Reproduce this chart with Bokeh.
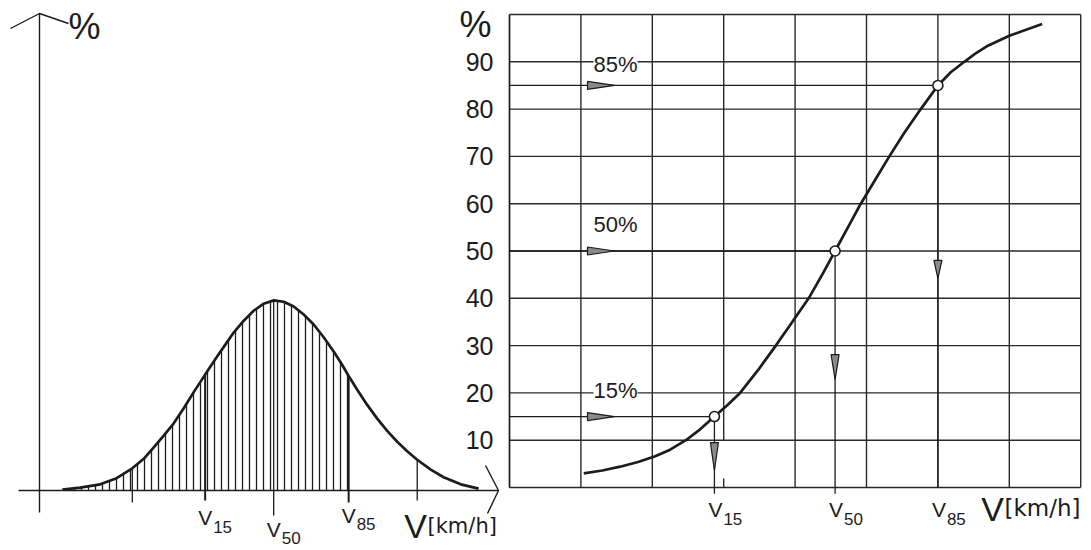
from bokeh.plotting import figure
from bokeh.models import Range1d, LinearAxis, FixedTicker, ColumnDataSource, Label
from bokeh.core.properties import value
from bokeh.embed import file_html
from bokeh.resources import INLINE

# ---------------- data ----------------
# left chart: frequency distribution of speeds (x in speed units, y in %)
bell_x = [0.32, 0.57, 0.85, 1.08, 1.30, 1.46, 1.60, 1.74, 1.88, 2.02, 2.16,
          2.32, 2.49, 2.61, 2.72, 2.86, 3.00, 3.14, 3.28, 3.42, 3.56, 3.70,
          3.84, 3.98, 4.12, 4.23, 4.33, 4.45, 4.59, 4.73, 4.87, 5.01, 5.15,
          5.29, 5.48, 5.66, 5.90, 6.15]
bell_y = [0.2, 0.6, 1.3, 2.6, 4.7, 6.7, 9.1, 11.6, 14.2, 17.4, 20.8,
          24.5, 28.4, 31.0, 33.4, 35.9, 38.0, 39.5, 40.2, 39.9, 38.9, 37.2,
          35.1, 32.4, 29.4, 26.8, 24.2, 21.3, 18.1, 15.2, 12.6, 10.3, 8.3,
          6.5, 4.4, 2.8, 1.3, 0.4]
bell_ticks = [1.30, 2.32, 3.28, 4.33, 5.29]
bell_tick_len_px = [12, 10, 25, 12, 10]
bell_tick_width = [1.3, 2.0, 1.3, 2.0, 1.3]
bell_v_ticks = [2.32, 3.28, 4.33]
bell_v_names = ["15", "50", "85"]
bell_v_mid = [-5.8, -8.2, -5.2]

# right chart: cumulative distribution (x in grid columns, y in %)
cum_x = [1.04, 1.30, 1.55, 1.80, 2.04, 2.25, 2.47, 2.67, 2.87, 3.05, 3.23,
         3.48, 3.73, 3.96, 4.19, 4.38, 4.56, 4.74, 4.92, 5.12, 5.32, 5.53,
         5.76, 6.00, 6.18, 6.37, 6.53, 6.70, 7.00, 7.46]
cum_y = [3.0, 3.6, 4.4, 5.4, 6.6, 8.0, 10.0, 12.3, 15.0, 17.4, 20.0,
         24.8, 30.0, 35.0, 40.0, 45.0, 50.0, 55.0, 60.0, 65.0, 70.0, 75.0,
         80.0, 85.0, 87.8, 90.0, 91.8, 93.4, 95.5, 98.0]
grid_cols = [0, 1, 2, 3, 4, 5, 6, 7, 8]
grid_rows = [0, 10, 20, 30, 40, 50, 60, 70, 80, 90, 100]
pct_ticks = [10, 20, 30, 40, 50, 60, 70, 80, 90]
v_levels = [15, 50, 85]
v_pos = [2.87, 4.56, 6.00]
v_names = ["15", "50", "85"]
pct_texts = ["15%", "50%", "85%"]
pct_text_y = [20.5, 55.5, 89.5]
vdart_top = [9.5, 28.1, 48.0]
vdart_tip = [3.6, 22.8, 44.2]

# ---------------- layout ----------------
W, H = 1091, 550
OFF = 0
R_X0, R_Y0 = 509.0, 487.0
L_X0, L_Y0 = 39.0, 490.0
PXU = 71.4
PXP = 4.73
INK = "#1c1c1c"
GRID = "#2a2a2a"
FONT = "Liberation Sans"


def xr(x0):
    return Range1d((OFF - x0) / PXU, (OFF + W - x0) / PXU)


def yr(y0):
    return Range1d((y0 - (OFF + H)) / PXP, (y0 - OFF) / PXP)


p = figure(width=W, height=H, x_range=xr(R_X0), y_range=yr(R_Y0),
           x_axis_location=None, y_axis_location=None, toolbar_location=None,
           output_backend="svg", min_border=0, outline_line_color=None,
           title=None, background_fill_color="white", border_fill_color="white")
p.grid.visible = False
p.extra_x_ranges = {"lx": xr(L_X0)}
p.extra_y_ranges = {"ly": yr(L_Y0)}
LK = dict(x_range_name="lx", y_range_name="ly")
TXT = dict(text_baseline="middle", text_color=INK)

# ---------------- left chart ----------------
k85 = bell_x.index(bell_v_ticks[2])
p.varea(x=bell_x[:k85 + 1], y1=[0] * (k85 + 1), y2=bell_y[:k85 + 1],
        fill_color=None, fill_alpha=0, hatch_pattern="|", hatch_scale=7,
        hatch_weight=1.3, hatch_color=INK, **LK)
p.line(bell_x, bell_y, line_width=2.7, color=INK, **LK)

tick_tops = [bell_y[bell_x.index(t)] for t in bell_ticks]
tick_src = ColumnDataSource(dict(
    x=bell_ticks, y0=tick_tops,
    y1=[-l / PXP for l in bell_tick_len_px], w=bell_tick_width))
p.segment(x0="x", y0="y0", x1="x", y1="y1", line_width="w", color=INK,
          source=tick_src, **LK)

# left axes with hand-drawn arrow heads
ax_top = (L_Y0 - 13) / PXP
ax_bot = (L_Y0 - 512) / PXP
p.segment(x0=[0, (18 - L_X0) / PXU], y0=[ax_bot, 0],
          x1=[0, (498 - L_X0) / PXU], y1=[ax_top, 0],
          line_width=1.4, color=INK, **LK)
p.line(x=[(10 - L_X0) / PXU, 0, (68 - L_X0) / PXU],
       y=[(L_Y0 - 28) / PXP, ax_top, (L_Y0 - 23) / PXP],
       line_width=1.4, color=INK, **LK)
p.line(x=[(485 - L_X0) / PXU, (498 - L_X0) / PXU, (487 - L_X0) / PXU],
       y=[(L_Y0 - 465) / PXP, 0, (L_Y0 - 513) / PXP],
       line_width=1.4, color=INK, **LK)

p.text(x=[(84 - L_X0) / PXU], y=[(L_Y0 - 26) / PXP], text=["%"],
       text_align="center", text_font=value(FONT), text_font_size="36px",
       **TXT, **LK)

p.text(x=bell_v_ticks, y=bell_v_mid, text=["V"] * 3, text_align="center",
       text_font=value(FONT), text_font_size="21px", **TXT, **LK)
p.text(x=bell_v_ticks, y=bell_v_mid, text=bell_v_names, text_align="left",
       x_offset=8, y_offset=9, text_font=value(FONT),
       text_font_size="17px", **TXT, **LK)
p.text(x=[(415 - L_X0) / PXU], y=[(L_Y0 - 525) / PXP], text=["V"],
       text_align="center", text_font=value(FONT), text_font_size="34px",
       **TXT, **LK)
p.text(x=[(427 - L_X0) / PXU], y=[(L_Y0 - 525) / PXP], text=["[km/h]"],
       text_align="left", text_font=value("DejaVu Sans"),
       text_font_size="21px", **TXT, **LK)

# ---------------- right chart ----------------
gap_col, gap_lo, gap_hi = 3, 1.9, 10.0
gx0, gy0, gx1, gy1 = [], [], [], []
for c in grid_cols:
    if c == gap_col:
        gx0 += [c, c]; gx1 += [c, c]
        gy0 += [grid_rows[0], gap_hi]; gy1 += [gap_lo, grid_rows[-1]]
    else:
        gx0.append(c); gx1.append(c)
        gy0.append(grid_rows[0]); gy1.append(grid_rows[-1])
for r in grid_rows:
    gx0.append(grid_cols[0]); gx1.append(grid_cols[-1])
    gy0.append(r); gy1.append(r)
p.segment(x0=gx0, y0=gy0, x1=gx1, y1=gy1, line_width=1.4, color=GRID)

yax = LinearAxis(fixed_location=0, bounds=(0, 100),
                 ticker=FixedTicker(ticks=pct_ticks),
                 axis_line_width=1.4, axis_line_color=INK,
                 major_tick_in=0, major_tick_out=0,
                 minor_tick_line_color=None, major_label_standoff=16,
                 major_label_text_font=FONT,
                 major_label_text_font_size="25px",
                 major_label_text_color=INK)
p.add_layout(yax, "left")

p.text(x=[(475 - R_X0) / PXU], y=[(R_Y0 - 24) / PXP], text=["%"],
       text_align="center", text_font=value(FONT), text_font_size="36px",
       **TXT)

# reading lines from % to V
p.segment(x0=[grid_cols[0]] * 3, y0=v_levels, x1=v_pos, y1=v_levels,
          line_width=1.3, color=INK)
p.segment(x0=v_pos, y0=v_levels, x1=v_pos, y1=[-1.3, -1.3, 0],
          line_width=1.3, color=INK)

p.line(cum_x, cum_y, line_width=2.7, color=INK)

# darts (arrow heads)
DL, DW = 27 / PXU, 4 / PXP
dx0 = (587 - R_X0) / PXU
p.patches(xs=[[dx0, dx0 + DL, dx0] for _ in v_levels],
          ys=[[lv + DW, lv, lv - DW] for lv in v_levels],
          fill_color="#8a8a8a", line_color=INK, line_width=1.2)
VW = 4 / PXU
p.patches(xs=[[x - VW, x, x + VW] for x in v_pos],
          ys=[[t, b, t] for t, b in zip(vdart_top, vdart_tip)],
          fill_color="#8a8a8a", line_color=INK, line_width=1.2)

p.scatter(v_pos, v_levels, size=10, fill_color="white", line_color=INK,
          line_width=1.6)

for txt, ty in zip(pct_texts, pct_text_y):
    p.add_layout(Label(x=(593 - R_X0) / PXU, y=ty, text=txt,
                       text_align="left", text_baseline="middle",
                       text_font=FONT, text_font_size="22px",
                       text_color=INK, background_fill_color="white"))

vm = (R_Y0 - 509) / PXP
p.text(x=v_pos, y=[vm] * 3, text=["V"] * 3, text_align="center",
       x_offset=1, text_font=value(FONT), text_font_size="21px", **TXT)
p.text(x=v_pos, y=[vm] * 3, text=v_names, text_align="left",
       x_offset=9, y_offset=9, text_font=value(FONT),
       text_font_size="17px", **TXT)
p.text(x=[(992 - R_X0) / PXU], y=[(R_Y0 - 508) / PXP], text=["V"],
       text_align="center", text_font=value(FONT), text_font_size="34px",
       **TXT)
p.text(x=[(1004 - R_X0) / PXU], y=[(R_Y0 - 507) / PXP], text=["[km/h]"],
       text_align="left", text_font=value("DejaVu Sans"),
       text_font_size="23px", **TXT)

open("out.html", "w").write(file_html(p, INLINE))
